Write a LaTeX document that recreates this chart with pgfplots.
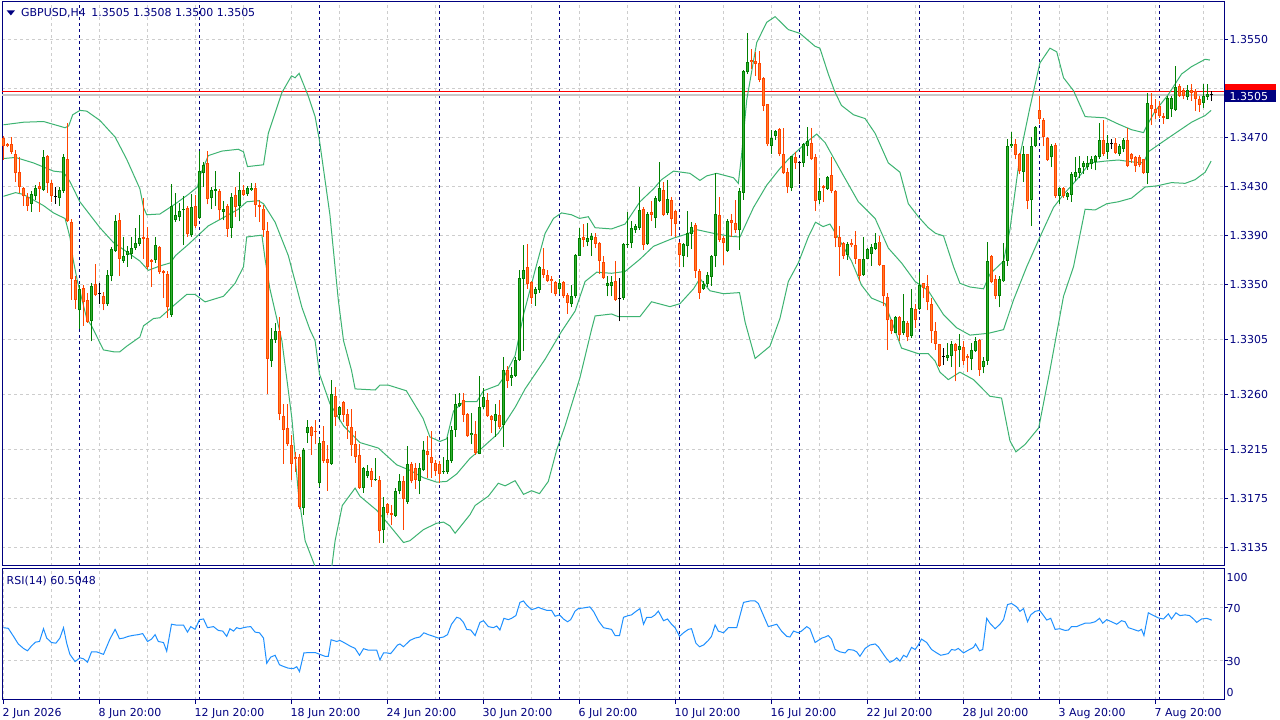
\documentclass[border=0pt]{standalone}
\usepackage{pgfplots}
\pgfplotsset{compat=1.18}
\usepackage{pgfplotstable}
\usepackage{fontspec}
\setmainfont{DejaVu Sans}
\definecolor{mtnavy}{RGB}{0,0,128}
\definecolor{gridgray}{RGB}{205,205,205}
\definecolor{bullfill}{RGB}{50,175,50}
\definecolor{bulledge}{RGB}{0,128,0}
\definecolor{bearfill}{RGB}{255,125,40}
\definecolor{bearedge}{RGB}{255,69,0}
\definecolor{bbgreen}{RGB}{60,179,113}
\definecolor{rsiblue}{RGB}{30,144,255}
\definecolor{bidgray}{RGB}{200,200,200}

\pgfplotstableread{
k t o h l c
0 -1 1.34700 1.34712 1.34518 1.34630
1 -1 1.34651 1.34660 1.34621 1.34630
2 -1 1.34645 1.34706 1.34570 1.34585
3 -1 1.34570 1.34600 1.34342 1.34409
4 -1 1.34418 1.34539 1.34251 1.34297
5 -1 1.34288 1.34297 1.34145 1.34221
6 -1 1.34212 1.34251 1.34100 1.34145
7 1 1.34160 1.34267 1.34094 1.34236
8 1 1.34227 1.34312 1.34191 1.34291
9 -1 1.34303 1.34342 1.34094 1.34282
10 1 1.34276 1.34600 1.34267 1.34539
11 -1 1.34548 1.34560 1.34251 1.34327
12 -1 1.34333 1.34357 1.34176 1.34221
13 0 1.34221 1.34297 1.34160 1.34221
14 1 1.34206 1.34297 1.34145 1.34276
15 1 1.34267 1.34570 1.34251 1.34539
16 -1 1.34524 1.34818 1.34009 1.34015
17 -1 1.34009 1.34039 1.33373 1.33548
18 -1 1.33533 1.33570 1.33297 1.33373
19 1 1.33288 1.33494 1.33136 1.33464
20 -1 1.33473 1.33494 1.33161 1.33358
21 -1 1.33373 1.33433 1.33185 1.33191
22 1 1.33197 1.33509 1.33033 1.33485
23 -1 1.33503 1.33670 1.33403 1.33412
24 0 1.33424 1.33509 1.33336 1.33424
25 -1 1.33409 1.33442 1.33288 1.33336
26 1 1.33336 1.33615 1.33327 1.33579
27 1 1.33570 1.33803 1.33524 1.33791
28 1 1.33773 1.34070 1.33767 1.34021
29 -1 1.34030 1.34082 1.33570 1.33706
30 1 1.33691 1.33888 1.33676 1.33730
31 1 1.33742 1.33812 1.33645 1.33776
32 1 1.33752 1.33888 1.33706 1.33797
33 1 1.33797 1.33964 1.33782 1.33842
34 1 1.33833 1.34064 1.33812 1.33879
35 -1 1.33888 1.34206 1.33706 1.33873
36 -1 1.33882 1.33973 1.33630 1.33645
37 -1 1.33697 1.33706 1.33479 1.33685
38 1 1.33697 1.33888 1.33676 1.33821
39 -1 1.33803 1.33812 1.33585 1.33600
40 -1 1.33606 1.33615 1.33388 1.33591
41 -1 1.33585 1.33606 1.33227 1.33312
42 1 1.33252 1.34321 1.33236 1.34139
43 1 1.34030 1.34245 1.34009 1.34064
44 1 1.34048 1.34167 1.34015 1.34100
45 1 1.34106 1.34221 1.33821 1.34115
46 -1 1.34124 1.34145 1.33888 1.33909
47 1 1.33903 1.34242 1.33888 1.34136
48 -1 1.34145 1.34230 1.33964 1.33979
49 1 1.34045 1.34591 1.34039 1.34424
50 1 1.34412 1.34503 1.34297 1.34479
51 -1 1.34494 1.34591 1.34154 1.34200
52 1 1.34206 1.34297 1.34115 1.34276
53 1 1.34267 1.34424 1.34145 1.34282
54 -1 1.34267 1.34282 1.34024 1.34106
55 1 1.34094 1.34185 1.34024 1.34115
56 -1 1.34145 1.34160 1.33888 1.33954
57 1 1.33964 1.34251 1.33882 1.34212
58 -1 1.34230 1.34297 1.34054 1.34136
59 1 1.34145 1.34418 1.34015 1.34276
60 -1 1.34276 1.34312 1.34221 1.34230
61 1 1.34236 1.34306 1.34227 1.34288
62 1 1.34273 1.34327 1.34267 1.34291
63 -1 1.34288 1.34333 1.34054 1.34151
64 -1 1.34151 1.34191 1.34009 1.34136
65 -1 1.34121 1.34151 1.33888 1.33942
66 -1 1.33933 1.34009 1.32600 1.32888
67 1 1.32873 1.33145 1.32827 1.33055
68 1 1.33045 1.33185 1.33024 1.33121
69 -1 1.33115 1.33230 1.32388 1.32439
70 -1 1.32427 1.32524 1.32033 1.32312
71 -1 1.32327 1.32524 1.32176 1.32191
72 -1 1.32182 1.32267 1.31903 1.32030
73 -1 1.32091 1.32131 1.31964 1.32070
74 -1 1.32085 1.32115 1.31661 1.31676
75 1 1.31670 1.32160 1.31615 1.32149
76 1 1.32288 1.32388 1.32206 1.32336
77 -1 1.32336 1.32342 1.32106 1.32261
78 -1 1.32303 1.32388 1.32191 1.32291
79 1 1.31873 1.32240 1.31840 1.32206
80 -1 1.32215 1.32342 1.32039 1.32055
81 -1 1.32070 1.32185 1.31812 1.32039
82 1 1.32033 1.32721 1.32024 1.32600
83 -1 1.32585 1.32661 1.32343 1.32418
84 1 1.32433 1.32509 1.32388 1.32494
85 -1 1.32539 1.32545 1.32373 1.32433
86 -1 1.32442 1.32479 1.32237 1.32342
87 -1 1.32333 1.32479 1.32100 1.32182
88 -1 1.32197 1.32297 1.32039 1.32085
89 -1 1.32106 1.32197 1.31827 1.31833
90 1 1.31833 1.32009 1.31797 1.32000
91 1 1.31933 1.32024 1.31918 1.31973
92 -1 1.31970 1.31994 1.31843 1.31903
93 1 1.31897 1.32076 1.31894 1.31909
94 -1 1.31903 1.31934 1.31388 1.31479
95 1 1.31488 1.31761 1.31388 1.31682
96 -1 1.31700 1.31715 1.31615 1.31630
97 -1 1.31630 1.31691 1.31530 1.31615
98 1 1.31609 1.31833 1.31600 1.31806
99 1 1.31806 1.31949 1.31782 1.31888
100 -1 1.31894 1.31934 1.31494 1.31743
101 1 1.31721 1.32176 1.31706 1.32033
102 -1 1.32033 1.32045 1.31873 1.31888
103 -1 1.31994 1.32039 1.31827 1.31903
104 1 1.31894 1.32039 1.31782 1.31994
105 1 1.31979 1.32221 1.31973 1.32146
106 -1 1.32136 1.32258 1.31918 1.32106
107 -1 1.32091 1.32297 1.31918 1.32039
108 -1 1.32039 1.32064 1.31934 1.31973
109 -1 1.32033 1.32055 1.31873 1.31949
110 1 1.31964 1.32085 1.31949 1.31973
111 1 1.31964 1.32252 1.31949 1.32061
112 1 1.32055 1.32342 1.32039 1.32312
113 1 1.32312 1.32600 1.32252 1.32524
114 1 1.32509 1.32609 1.32494 1.32530
115 -1 1.32555 1.32609 1.32373 1.32433
116 -1 1.32442 1.32448 1.32252 1.32258
117 1 1.32267 1.32448 1.32191 1.32288
118 -1 1.32273 1.32379 1.32106 1.32124
119 1 1.32115 1.32752 1.32109 1.32494
120 1 1.32494 1.32651 1.32479 1.32576
121 -1 1.32555 1.32615 1.32418 1.32427
122 -1 1.32427 1.32433 1.32288 1.32388
123 1 1.32382 1.32518 1.32252 1.32439
124 -1 1.32433 1.32555 1.32318 1.32333
125 1 1.32349 1.32903 1.32170 1.32797
126 -1 1.32803 1.32836 1.32652 1.32706
127 1 1.32736 1.32827 1.32670 1.32761
128 1 1.32752 1.32903 1.32746 1.32882
129 1 1.32882 1.33615 1.32873 1.33555
130 1 1.33545 1.33821 1.32955 1.33621
131 -1 1.33639 1.33827 1.33464 1.33500
132 -1 1.33518 1.33524 1.33342 1.33388
133 1 1.33418 1.33479 1.33324 1.33464
134 1 1.33454 1.33651 1.33433 1.33639
135 -1 1.33624 1.33797 1.33555 1.33579
136 -1 1.33576 1.33621 1.33518 1.33530
137 -1 1.33548 1.33570 1.33433 1.33524
138 -1 1.33518 1.33530 1.33403 1.33418
139 1 1.33464 1.33548 1.33418 1.33509
140 -1 1.33518 1.33524 1.33388 1.33403
141 -1 1.33412 1.33433 1.33258 1.33348
142 1 1.33342 1.33494 1.33312 1.33409
143 1 1.33403 1.33751 1.33388 1.33742
144 1 1.33736 1.33964 1.33730 1.33879
145 -1 1.33885 1.33994 1.33803 1.33864
146 1 1.33851 1.34000 1.33812 1.33882
147 1 1.33864 1.33918 1.33736 1.33897
148 -1 1.33888 1.33924 1.33797 1.33833
149 -1 1.33842 1.33848 1.33585 1.33691
150 -1 1.33682 1.33736 1.33548 1.33555
151 1 1.33488 1.33570 1.33403 1.33509
152 1 1.33488 1.33570 1.33403 1.33518
153 -1 1.33524 1.33691 1.33367 1.33373
154 0 1.33388 1.33555 1.33197 1.33388
155 1 1.33388 1.33842 1.33373 1.33833
156 1 1.33821 1.34094 1.33797 1.33833
157 1 1.33836 1.34021 1.33797 1.33958
158 1 1.33942 1.33994 1.33924 1.33979
159 1 1.33964 1.34297 1.33949 1.34106
160 -1 1.34115 1.34130 1.33782 1.33821
161 1 1.33827 1.34094 1.33821 1.34076
162 -1 1.34091 1.34182 1.34018 1.34070
163 1 1.34045 1.34221 1.33964 1.34203
164 1 1.34185 1.34503 1.34176 1.34288
165 -1 1.34276 1.34342 1.34057 1.34070
166 1 1.34085 1.34357 1.34070 1.34197
167 -1 1.34188 1.34215 1.33897 1.34033
168 -1 1.34100 1.34106 1.33888 1.33994
169 -1 1.33836 1.33851 1.33639 1.33742
170 1 1.33736 1.33842 1.33639 1.33827
171 1 1.33812 1.34100 1.33721 1.33924
172 1 1.33912 1.34009 1.33791 1.33973
173 -1 1.33985 1.34000 1.33555 1.33609
174 -1 1.33606 1.33630 1.33379 1.33433
175 1 1.33464 1.33530 1.33458 1.33500
176 1 1.33500 1.33600 1.33479 1.33576
177 1 1.33561 1.33742 1.33488 1.33736
178 1 1.33736 1.34409 1.33645 1.34076
179 -1 1.34070 1.34212 1.33851 1.33864
180 -1 1.33882 1.33894 1.33661 1.33836
181 1 1.33773 1.34039 1.33767 1.34015
182 -1 1.34024 1.34076 1.33888 1.34003
183 -1 1.34000 1.34191 1.33924 1.33942
184 1 1.33942 1.34288 1.33782 1.34267
185 1 1.34251 1.35251 1.34191 1.35245
186 1 1.35236 1.35560 1.35221 1.35318
187 -1 1.35336 1.35427 1.35266 1.35318
188 -1 1.35327 1.35403 1.35206 1.35306
189 -1 1.35312 1.35409 1.35154 1.35176
190 -1 1.35191 1.35197 1.34918 1.34963
191 -1 1.34973 1.34979 1.34630 1.34645
192 1 1.34636 1.34766 1.34570 1.34697
193 1 1.34715 1.34766 1.34682 1.34757
194 -1 1.34773 1.34782 1.34548 1.34570
195 -1 1.34564 1.34782 1.34403 1.34409
196 -1 1.34418 1.34454 1.34245 1.34297
197 1 1.34291 1.34554 1.34267 1.34548
198 -1 1.34539 1.34585 1.34448 1.34494
199 0 1.34494 1.34503 1.34321 1.34494
200 1 1.34494 1.34660 1.34464 1.34645
201 1 1.34630 1.34791 1.34554 1.34676
202 -1 1.34660 1.34782 1.34518 1.34524
203 -1 1.34539 1.34570 1.34100 1.34185
204 1 1.34191 1.34373 1.34154 1.34267
205 -1 1.34303 1.34312 1.34176 1.34288
206 1 1.34282 1.34388 1.34273 1.34382
207 -1 1.34394 1.34539 1.34245 1.34267
208 -1 1.34267 1.34273 1.33803 1.33879
209 -1 1.33888 1.33979 1.33570 1.33803
210 -1 1.33842 1.33848 1.33706 1.33736
211 1 1.33742 1.33851 1.33700 1.33833
212 -1 1.33842 1.33873 1.33803 1.33821
213 -1 1.33821 1.33933 1.33667 1.33712
214 -1 1.33706 1.33712 1.33530 1.33570
215 1 1.33579 1.33888 1.33570 1.33706
216 1 1.33712 1.33797 1.33706 1.33788
217 1 1.33748 1.33827 1.33651 1.33803
218 1 1.33791 1.33918 1.33782 1.33842
219 -1 1.33851 1.33894 1.33651 1.33661
220 -1 1.33658 1.33661 1.33327 1.33403
221 -1 1.33394 1.33427 1.32964 1.33206
222 -1 1.33206 1.33221 1.33094 1.33115
223 1 1.33106 1.33245 1.33100 1.33236
224 -1 1.33230 1.33245 1.33040 1.33085
225 1 1.33100 1.33424 1.33085 1.33197
226 -1 1.33185 1.33197 1.33033 1.33070
227 1 1.33076 1.33464 1.33064 1.33303
228 -1 1.33297 1.33336 1.33145 1.33206
229 1 1.33297 1.33600 1.33288 1.33494
230 -1 1.33509 1.33515 1.33388 1.33470
231 -1 1.33488 1.33579 1.33288 1.33358
232 -1 1.33342 1.33388 1.33024 1.33115
233 -1 1.33121 1.33191 1.32964 1.33015
234 -1 1.33009 1.33015 1.32827 1.32833
235 0 1.32912 1.32979 1.32842 1.32912
236 1 1.32894 1.33024 1.32873 1.32924
237 1 1.32912 1.33033 1.32827 1.33009
238 -1 1.33015 1.33024 1.32706 1.32955
239 1 1.32964 1.33094 1.32827 1.32994
240 -1 1.32985 1.33040 1.32842 1.32873
241 -1 1.32918 1.32933 1.32782 1.32894
242 1 1.32888 1.33024 1.32797 1.32964
243 1 1.32958 1.33070 1.32949 1.33033
244 -1 1.33048 1.33055 1.32752 1.32803
245 1 1.32821 1.32903 1.32773 1.32873
246 1 1.32873 1.33851 1.32842 1.33691
247 -1 1.33736 1.33742 1.33509 1.33518
248 -1 1.33548 1.33579 1.33379 1.33409
249 1 1.33403 1.33570 1.33312 1.33548
250 1 1.33524 1.33842 1.33518 1.33691
251 1 1.33691 1.34691 1.33651 1.34630
252 1 1.34630 1.34751 1.34615 1.34651
253 -1 1.34645 1.34691 1.34524 1.34560
254 -1 1.34570 1.34579 1.34403 1.34427
255 1 1.34418 1.34636 1.34342 1.34570
256 -1 1.34564 1.34570 1.34115 1.34185
257 1 1.34191 1.34706 1.33979 1.34636
258 1 1.34630 1.34797 1.34621 1.34791
259 -1 1.34927 1.35045 1.34812 1.34857
260 -1 1.34842 1.34863 1.34630 1.34706
261 -1 1.34697 1.34706 1.34509 1.34518
262 1 1.34539 1.34645 1.34464 1.34630
263 -1 1.34639 1.34660 1.34206 1.34227
264 1 1.34227 1.34297 1.34160 1.34291
265 -1 1.34288 1.34297 1.34206 1.34227
266 1 1.34212 1.34257 1.34191 1.34245
267 1 1.34230 1.34418 1.34176 1.34403
268 1 1.34379 1.34539 1.34348 1.34418
269 1 1.34412 1.34554 1.34367 1.34454
270 1 1.34457 1.34509 1.34403 1.34494
271 1 1.34457 1.34548 1.34439 1.34494
272 1 1.34485 1.34554 1.34448 1.34524
273 1 1.34503 1.34560 1.34433 1.34548
274 1 1.34539 1.34821 1.34530 1.34682
275 -1 1.34682 1.34848 1.34554 1.34570
276 1 1.34585 1.34721 1.34524 1.34654
277 0 1.34657 1.34691 1.34609 1.34657
278 -1 1.34654 1.34700 1.34570 1.34579
279 1 1.34570 1.34645 1.34554 1.34630
280 1 1.34609 1.34697 1.34585 1.34682
281 -1 1.34685 1.34782 1.34457 1.34470
282 -1 1.34570 1.34576 1.34494 1.34524
283 -1 1.34545 1.34554 1.34418 1.34470
284 -1 1.34539 1.34560 1.34457 1.34479
285 -1 1.34524 1.34530 1.34403 1.34412
286 1 1.34412 1.35063 1.34321 1.34988
287 -1 1.34970 1.35069 1.34803 1.34939
288 -1 1.34933 1.35015 1.34857 1.34903
289 -1 1.34957 1.35003 1.34863 1.34879
290 -1 1.34879 1.34903 1.34812 1.34863
291 1 1.34857 1.35039 1.34851 1.35024
292 1 1.34933 1.35045 1.34873 1.35024
293 1 1.34927 1.35288 1.34918 1.35115
294 -1 1.35124 1.35136 1.35033 1.35045
295 -1 1.35094 1.35106 1.35015 1.35039
296 1 1.35033 1.35130 1.35009 1.35094
297 -1 1.35094 1.35136 1.35003 1.35070
298 -1 1.35085 1.35100 1.34918 1.35015
299 -1 1.35015 1.35045 1.34909 1.34970
300 1 1.34985 1.35136 1.34942 1.35039
301 1 1.35033 1.35136 1.35009 1.35060
302 0 1.35050 1.35080 1.35000 1.35050
}\candles

\pgfplotsset{
  mtgrid/.style={gridgray, line width=1bp, dash pattern=on 3bp off 3bp},
  wick/.style={draw=none, mark=none, forget plot,
    error bars/.cd, y dir=plus, y explicit, error mark=none,
    error bar style={line width=1bp, draw=#1}},
  body/.style 2 args={draw=none, mark=none, forget plot,
    error bars/.cd, y dir=plus, y explicit, error mark=none,
    error bar style={line width=#2, draw=#1}},
}

\begin{document}
\begin{tikzpicture}[x=1bp,y=1bp]
\useasboundingbox (0,0) rectangle (1280,720);
\fill[white] (0,0) rectangle (1280,720);

% ---------------- main price panel ----------------
\begin{axis}[at={(2bp,154bp)}, anchor=south west, scale only axis,
  width=1222bp, height=564bp,
  xmin=-0.375, xmax=305.125, ymin=1.31196, ymax=1.35811,
  axis line style={mtnavy, line width=1bp},
  xtick={12,24,...,300}, xticklabels={}, xtick style={draw=none}, xmajorgrids,
  extra x ticks={19,49,...,289}, extra x tick labels={},
  extra x tick style={grid=major, major grid style={mtnavy, line width=1bp, dash pattern=on 3bp off 3bp}, tick style={draw=none}},
  ytick={1.3135,1.3175,1.3215,1.3260,1.3305,1.3350,1.3390,1.3430,1.3470,1.3510,1.3550},
  yticklabels={}, scaled y ticks=false, ytick pos=right, ymajorgrids,
  tick align=outside, major tick length=4bp, ytick style={mtnavy, line width=1bp},
  major grid style={mtgrid},
]
% bid / ask lines
\addplot[bidgray, line width=1.6bp, forget plot] coordinates {(-0.375,1.3505) (305.125,1.3505)};
\addplot[red, line width=1bp, forget plot] coordinates {(-0.375,1.3508) (305.125,1.3508)};

% Bollinger bands
\addplot[bbgreen, line width=1bp] coordinates {
(0,1.34806) (5,1.34827) (10,1.34833) (15.4,1.34782) (16.3,1.34797) (17.3,1.34888) (19.1,1.34924) (20.8,1.34918) (24.1,1.34842) (27.9,1.34706) (30.8,1.34524) (34.1,1.34282) (35,1.34130) (35.8,1.34070) (39.1,1.34076) (43,1.34160) (46.2,1.34236) (48.5,1.34297) (49.1,1.34388) (51.2,1.34554) (54.6,1.34591) (58.7,1.34606) (60,1.34585) (61,1.34464) (65,1.34479) (66.2,1.34736) (69.6,1.35070) (72,1.35206) (72.9,1.35191) (73.9,1.35227) (76.2,1.35040) (77.9,1.34873) (79,1.34676) (81.6,1.34070) (83.7,1.33373) (85,1.33040) (87,1.32797) (87.9,1.32645) (92.9,1.32636) (94.1,1.32676) (96.2,1.32676) (100.7,1.32630) (104.9,1.32403) (106.6,1.32252) (109.1,1.32215) (110.8,1.32237) (112.5,1.32464) (115,1.32540) (118.3,1.32540) (120,1.32630) (123.7,1.32676) (125,1.32736) (127.9,1.32918) (130,1.33252) (132.9,1.33615) (135.4,1.33918) (137.5,1.34040) (139.5,1.34085) (142,1.34070) (144,1.34040) (146.2,1.34054) (147.9,1.33964) (152,1.33954) (155.4,1.33994) (159.1,1.34176) (162.5,1.34282) (164.5,1.34357) (167.5,1.34427) (171.6,1.34409) (174.1,1.34351) (175.8,1.34388) (178.3,1.34409) (182.5,1.34373) (183.7,1.34327) (184.5,1.34554) (185.8,1.35009) (188.3,1.35479) (190.8,1.35645) (192.9,1.35691) (196.2,1.35585) (199.1,1.35554) (202.9,1.35448) (204.1,1.35433) (206.2,1.35221) (207.9,1.35070) (209.5,1.34964) (212.5,1.34888) (215.4,1.34857) (217.9,1.34736) (221.2,1.34494) (224.1,1.34418) (226.2,1.34160) (228.7,1.34054) (231.2,1.33964) (233,1.33918) (235,1.33897) (237.5,1.33645) (239.1,1.33509) (241.6,1.33479) (245,1.33464) (246.6,1.33585) (250,1.33691) (251.6,1.33948) (254.1,1.34554) (256.6,1.34948) (259.1,1.35312) (261.6,1.35433) (263.3,1.35403) (265,1.35191) (267.5,1.35085) (270.4,1.34873) (275.4,1.34863) (278.7,1.34812) (282,1.34766) (285,1.34742) (285.8,1.34797) (287.9,1.34918) (291.2,1.35054) (294.5,1.35221) (297,1.35282) (300.4,1.35342) (301.6,1.35336)};
\addplot[bbgreen, line width=1bp] coordinates {
(0,1.34530) (3,1.34539) (7.5,1.34494) (12.5,1.34427) (15,1.34418) (16.6,1.34342) (19.1,1.34176) (24.1,1.33964) (27.5,1.33842) (30.8,1.33767) (34.1,1.33691) (36.2,1.33615) (39.1,1.33651) (41.7,1.33676) (43,1.33736) (46.2,1.33827) (48.7,1.33903) (51.2,1.33979) (54.6,1.34040) (58.7,1.34115) (60.8,1.34176) (63.7,1.34185) (65,1.34160) (67.9,1.34009) (71.2,1.33736) (74.6,1.33312) (76.6,1.33130) (77.9,1.33039) (79,1.32767) (81.6,1.32524) (85,1.32343) (89.1,1.32206) (93.7,1.32161) (98.3,1.32024) (101.6,1.31979) (105,1.31918) (108.3,1.31882) (110.8,1.31888) (113.3,1.31949) (116.6,1.32076) (119.1,1.32146) (123.7,1.32282) (127.9,1.32494) (130.4,1.32645) (135.4,1.32888) (139.5,1.33115) (142.9,1.33282) (145.4,1.33524) (148.3,1.33600) (152,1.33591) (155.4,1.33606) (159.1,1.33706) (162.5,1.33812) (167.5,1.33879) (170.8,1.33912) (173.3,1.33948) (177.5,1.33918) (181.6,1.33894) (184.1,1.33888) (187.5,1.34130) (190.8,1.34312) (194.1,1.34448) (196.2,1.34524) (201.2,1.34676) (203.3,1.34730) (205.4,1.34660) (209.5,1.34418) (213.7,1.34176) (217.9,1.34040) (221.2,1.33797) (224.5,1.33676) (227.9,1.33524) (231.2,1.33448) (235,1.33252) (238.3,1.33145) (241.6,1.33085) (246.2,1.33100) (250,1.33130) (252.5,1.33373) (255.8,1.33645) (259.1,1.33888) (262.5,1.34130) (265,1.34236) (268.3,1.34357) (271.6,1.34494) (275.4,1.34509) (278.7,1.34518) (282,1.34503) (285,1.34494) (286.2,1.34585) (289.5,1.34660) (292.9,1.34736) (297,1.34827) (300.4,1.34882) (301.9,1.34924)};
\addplot[bbgreen, line width=1bp] coordinates {
(0,1.34221) (3,1.34251) (5,1.34236) (10,1.34145) (12.5,1.34085) (15.4,1.34039) (16.6,1.33888) (17.4,1.33706) (18.5,1.33524) (20.8,1.33221) (22,1.33161) (25,1.32964) (27.5,1.32949) (29.1,1.32949) (30.8,1.32994) (34.1,1.33070) (35,1.33161) (37.5,1.33221) (39.1,1.33227) (42,1.33312) (45.8,1.33418) (47.9,1.33418) (50.4,1.33357) (55,1.33403) (57.9,1.33509) (60,1.33645) (60.8,1.33888) (64.6,1.33903) (65.4,1.33706) (66.6,1.33464) (69.6,1.33039) (72.1,1.32403) (73.7,1.31797) (75.4,1.31403) (77.9,1.31191) (79.5,1.31040) (81.5,1.31040) (82.9,1.31403) (84.7,1.31691) (87.9,1.31833) (89.1,1.31767) (93.3,1.31652) (96.6,1.31524) (100,1.31388) (101.6,1.31403) (105,1.31494) (108.3,1.31546) (110,1.31555) (111.6,1.31524) (112.9,1.31464) (116.6,1.31615) (117.9,1.31691) (121.2,1.31767) (123.7,1.31873) (125.4,1.31852) (127.9,1.31894) (130,1.31782) (132,1.31812) (134,1.31788) (136.2,1.31888) (138.3,1.32146) (140.4,1.32343) (144.1,1.32736) (147,1.33130) (147.9,1.33242) (152,1.33258) (153.7,1.33236) (159.1,1.33236) (162,1.33358) (166.6,1.33318) (169.1,1.33342) (172.5,1.33464) (174.1,1.33548) (176.6,1.33448) (180,1.33424) (184,1.33433) (185.4,1.33191) (187.9,1.32894) (191.6,1.32994) (194.1,1.33221) (196.2,1.33524) (198.7,1.33676) (201.2,1.33888) (203,1.34009) (204.9,1.33973) (206.6,1.33994) (208.3,1.33903) (212,1.33691) (214.5,1.33494) (217,1.33388) (220.4,1.33342) (224.5,1.32979) (228.7,1.32933) (231.2,1.32933) (232.9,1.32873) (234.1,1.32782) (236.2,1.32721) (239.1,1.32782) (242.5,1.32721) (246.6,1.32585) (249.5,1.32570) (251.6,1.32221) (253.1,1.32130) (255.4,1.32191) (258.8,1.32327) (261.6,1.32797) (265,1.33403) (267.5,1.33645) (270.4,1.34115) (272.9,1.34109) (275.8,1.34160) (278.7,1.34176) (282,1.34206) (285.4,1.34297) (288.3,1.34306) (292,1.34333) (295.4,1.34327) (297.9,1.34357) (300.4,1.34418) (301.9,1.34509)};

% candles: wicks
\addplot[wick=bulledge] table[x=k, y expr={\thisrow{t}>0 ? \thisrow{l} : nan}, y error plus expr={\thisrow{h}-\thisrow{l}}]{\candles};
\addplot[wick=bearedge] table[x=k, y expr={\thisrow{t}<0 ? \thisrow{l} : nan}, y error plus expr={\thisrow{h}-\thisrow{l}}]{\candles};
\addplot[wick=black] table[x=k, y expr={\thisrow{t}==0 ? \thisrow{l} : nan}, y error plus expr={\thisrow{h}-\thisrow{l}}]{\candles};
% bodies
\addplot[body={bulledge}{3bp}] table[x=k, y expr={\thisrow{t}>0 ? \thisrow{o} : nan}, y error plus expr={max(\thisrow{c}-\thisrow{o},0.000012)}]{\candles};
\addplot[body={bullfill}{1.2bp}] table[x=k, y expr={\thisrow{t}>0 ? \thisrow{o}+0.00008 : nan}, y error plus expr={max(\thisrow{c}-\thisrow{o}-0.00016,0)}]{\candles};
\addplot[body={bearedge}{3bp}] table[x=k, y expr={\thisrow{t}<0 ? \thisrow{c} : nan}, y error plus expr={max(\thisrow{o}-\thisrow{c},0.000012)}]{\candles};
\addplot[body={bearfill}{1.2bp}] table[x=k, y expr={\thisrow{t}<0 ? \thisrow{c}+0.00008 : nan}, y error plus expr={max(\thisrow{o}-\thisrow{c}-0.00016,0)}]{\candles};
\addplot[only marks, mark=-, mark size=1.5bp, black, line width=1bp, forget plot] table[x=k, y expr={\thisrow{t}==0 ? \thisrow{c} : nan}]{\candles};
\end{axis}

% ---------------- RSI panel ----------------
\begin{axis}[at={(2bp,20bp)}, anchor=south west, scale only axis,
  width=1222bp, height=131.5bp,
  xmin=-0.375, xmax=305.125, ymin=0, ymax=100,
  axis line style={mtnavy, line width=1bp},
  xtick={0,24,...,288}, xticklabels={}, xtick pos=left,
  minor xtick={12,36,...,300}, minor tick length=0pt,
  xmajorgrids, xminorgrids,
  extra x ticks={19,49,...,289}, extra x tick labels={},
  extra x tick style={grid=major, major grid style={mtnavy, line width=1bp, dash pattern=on 3bp off 3bp}, tick style={draw=none}},
  ytick={30,70}, yticklabels={}, ytick pos=right, ymajorgrids,
  tick align=outside, major tick length=4bp, tick style={mtnavy, line width=1bp},
  major grid style={mtgrid}, minor grid style={mtgrid},
]
\addplot[rsiblue, line width=1bp] coordinates {
(0,55.0) (1.2,54.5) (2.5,48.4) (3.7,42.6) (5,39.2) (6,37.4) (7,41.1) (8,44.0) (9,44.5) (10,54.2) (10.8,47.1) (12,43.7) (13.1,43.2) (14.1,47.1) (15,55.0) (15.8,43.2) (16.6,34.7) (17.9,29.2) (19.1,32.1) (20,31.3) (21,28.7) (22,36.6) (23.3,36.6) (25,34.7) (26.6,46.3) (27.9,53.7) (29,46.6) (30,47.1) (31.2,48.4) (32.5,49.2) (33.7,49.7) (34.8,50.5) (36,44.5) (37,46.3) (37.9,49.7) (38.7,44.5) (40,43.7) (40.8,37.1) (42,57.6) (43.3,56.9) (45,56.9) (46,51.6) (46.8,55.8) (47.9,53.7) (49,61.1) (50,61.6) (51,55.0) (52.5,55.8) (53.7,52.9) (54.8,52.4) (55.8,48.4) (56.6,54.2) (57.5,52.4) (58.3,55.0) (59.1,54.2) (60,55.0) (60.8,55.5) (61.8,55.8) (62.9,51.6) (64,51.1) (65,47.1) (65.8,27.9) (66.8,32.6) (67.9,34.0) (69,26.8) (70,25.5) (71.2,24.2) (72.5,23.9) (73.3,25.3) (74,21.6) (75.1,35.8) (76.6,36.1) (77.9,36.1) (79.1,34.7) (80.4,33.2) (81.2,33.2) (81.9,45.8) (83.3,44.5) (84.1,45.3) (85.4,43.2) (86.6,41.1) (87.9,39.2) (89,34.0) (90,39.0) (91.2,37.9) (92.5,37.9) (93.3,37.9) (94.1,30.5) (95,35.8) (95.8,35.8) (96.8,35.3) (97.5,37.9) (98.5,41.8) (99.1,42.6) (100,40.5) (101.6,45.3) (102.9,47.1) (104.1,47.9) (105.1,51.1) (106.2,49.7) (107.5,48.4) (108.7,47.1) (110,47.9) (111,49.7) (112,57.6) (113.3,62.9) (114.1,62.1) (115,59.0) (115.8,53.7) (116.8,53.2) (117.9,49.0) (119.1,59.0) (120,60.3) (121.2,55.8) (122.5,55.0) (123.3,56.3) (124.1,53.2) (125.1,62.1) (126.2,61.1) (127,62.1) (128.1,64.2) (129.1,74.2) (130,75.3) (130.8,72.1) (132,68.7) (132.9,69.5) (133.7,70.5) (134.5,69.5) (135.8,68.2) (137,68.2) (137.9,63.7) (139,64.7) (140,61.6) (141,59.5) (141.8,61.1) (142.9,67.6) (143.7,69.5) (145,70.0) (146.6,70.8) (147.6,66.9) (148.7,60.3) (150,55.0) (151.2,54.2) (152,53.7) (152.9,49.0) (154,49.0) (155,62.9) (156.2,64.2) (157,64.7) (157.9,66.9) (159.1,69.5) (160,57.6) (160.8,62.9) (162,62.9) (162.9,64.7) (163.7,67.6) (165,60.3) (166,61.6) (167,57.6) (167.9,55.0) (169,48.4) (170,51.1) (171.2,53.7) (172,54.2) (173.1,43.2) (174,40.5) (175,41.8) (176.2,45.3) (177,48.4) (177.9,57.1) (178.7,52.4) (180,51.1) (181.2,55.0) (182.5,55.0) (183.3,55.0) (185,74.2) (186.6,75.3) (187.9,75.3) (188.7,73.4) (190,64.2) (191.2,55.8) (192.5,56.9) (193.3,57.6) (194.5,52.4) (195.8,48.4) (196.6,47.9) (197.5,52.4) (198.7,51.1) (199.5,52.4) (200.8,55.8) (201.6,54.2) (202.9,43.7) (203.7,45.3) (204.6,47.1) (205.4,47.9) (206.2,49.0) (207,46.3) (207.9,38.4) (209.1,36.6) (210.4,35.8) (211.2,38.4) (212.5,37.9) (213.3,36.6) (214.1,33.2) (215.4,39.2) (216.6,41.8) (217.9,42.6) (218.7,40.5) (220,34.7) (220.8,31.3) (221.6,28.7) (222.5,30.0) (223.3,32.1) (224.1,29.5) (225,34.0) (225.8,32.6) (227,40.0) (227.9,38.4) (228.7,41.8) (229.5,46.3) (230.8,43.7) (232,38.4) (233.3,35.8) (234.3,34.0) (235.4,34.7) (236.2,35.3) (237,38.4) (237.9,37.9) (238.7,39.2) (240,35.8) (241.2,37.9) (242.5,40.0) (243,42.6) (244,37.4) (244.8,38.4) (245.8,62.1) (246.6,58.4) (247.9,54.2) (249.1,57.6) (250,61.1) (251,72.6) (252,73.4) (253.3,70.8) (254.1,67.4) (255,69.5) (256,59.5) (256.8,64.7) (257.9,67.4) (259,68.2) (260,64.2) (260.8,60.8) (261.8,62.1) (262.9,53.7) (264.1,54.2) (265.4,52.9) (266.2,53.2) (267,55.8) (268.3,55.8) (269.1,56.9) (270.4,58.4) (271.6,58.4) (272.9,59.5) (274,62.1) (274.8,58.4) (275.8,61.1) (277,59.5) (278.3,57.6) (279.5,60.3) (280.4,59.5) (281.2,55.0) (282.5,53.7) (283.7,52.4) (284.5,53.7) (285.1,49.0) (286.2,66.3) (287.5,64.2) (288.7,62.4) (290,61.6) (291.2,65.5) (292,61.6) (293.1,66.3) (294.1,64.2) (295.4,64.7) (296.5,64.2) (297.5,61.6) (298.3,59.0) (299.5,61.6) (300.8,62.1) (301.8,61.1) (302,60.5)};
\end{axis}

% ---------------- texts ----------------
\begin{scope}[font=\fontsize{11}{13}\selectfont, text=mtnavy, inner sep=0pt]
\fill[mtnavy] (6.7,709.6) -- (15,709.6) -- (10.85,704.6) -- cycle;
\node[anchor=west] at (21,707) {GBPUSD,H4\enspace 1.3505 1.3508 1.3500 1.3505};
\node[anchor=base west] at (6.5,135.5) {RSI(14) 60.5048};
% price scale
\node[anchor=west] at (1229.5,680.0) {1.3550};
\node[anchor=west] at (1229.5,582.2) {1.3470};
\node[anchor=west] at (1229.5,533.3) {1.3430};
\node[anchor=west] at (1229.5,484.4) {1.3390};
\node[anchor=west] at (1229.5,435.6) {1.3350};
\node[anchor=west] at (1229.5,380.6) {1.3305};
\node[anchor=west] at (1229.5,325.6) {1.3260};
\node[anchor=west] at (1229.5,270.6) {1.3215};
\node[anchor=west] at (1229.5,221.7) {1.3175};
\node[anchor=west] at (1229.5,172.8) {1.3135};
% current price boxes (ask box mostly hidden behind the bid box)
\fill[red] (1225,628) rectangle (1276,636);
\fill[mtnavy] (1225,617.5) rectangle (1276,630);
\node[anchor=west, text=white] at (1229.5,623.8) {1.3505};
% RSI scale
\node[anchor=west] at (1226.5,142) {100};
\node[anchor=west] at (1226.5,111) {70};
\node[anchor=west] at (1226.5,58.6) {30};
\node[anchor=west] at (1226.5,27.4) {0};
% time axis
\node[anchor=base west] at (2.5,3) {2 Jun 2026};
\node[anchor=base west] at (98.5,3) {8 Jun 20:00};
\node[anchor=base west] at (194.5,3) {12 Jun 20:00};
\node[anchor=base west] at (290.5,3) {18 Jun 20:00};
\node[anchor=base west] at (386.5,3) {24 Jun 20:00};
\node[anchor=base west] at (482.5,3) {30 Jun 20:00};
\node[anchor=base west] at (578.5,3) {6 Jul 20:00};
\node[anchor=base west] at (674.5,3) {10 Jul 20:00};
\node[anchor=base west] at (770.5,3) {16 Jul 20:00};
\node[anchor=base west] at (866.5,3) {22 Jul 20:00};
\node[anchor=base west] at (962.5,3) {28 Jul 20:00};
\node[anchor=base west] at (1058.5,3) {3 Aug 20:00};
\node[anchor=base west] at (1154.5,3) {7 Aug 20:00};
\end{scope}
\end{tikzpicture}
\end{document}
